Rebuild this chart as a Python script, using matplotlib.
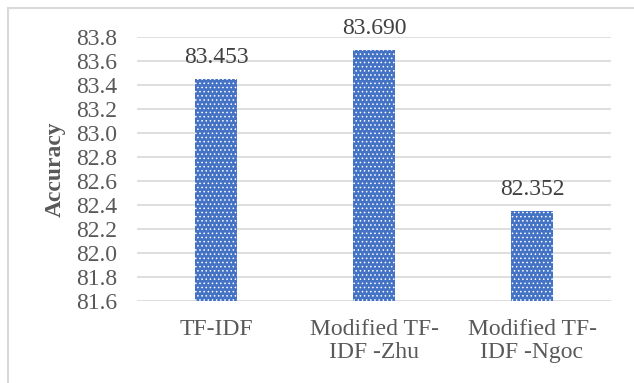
import numpy as np
import matplotlib.pyplot as plt
from matplotlib.patches import Rectangle

# accuracy of each weighting scheme
methods = ['TF-IDF', 'Modified TF-\nIDF -Zhu', 'Modified TF-\nIDF -Ngoc']
accuracy = [83.453, 83.690, 82.352]
yticks = [81.6, 81.8, 82.0, 82.2, 82.4, 82.6, 82.8, 83.0, 83.2, 83.4, 83.6, 83.8]

plt.rcParams['font.family'] = ['Liberation Serif', 'DejaVu Serif']
plt.rcParams['hatch.linewidth'] = 0.6

fig = plt.figure(figsize=(6.34, 3.83), dpi=100)
ax = fig.add_axes([137/634, 1 - 301/383, 474/634, 264/383])

# chart border
fig.patches.append(Rectangle((8/634, -0.05), 1.0, 1 - 8/383 + 0.05,
                             transform=fig.transFigure, fill=False,
                             edgecolor='#d9d9d9', linewidth=1.5))

x = np.arange(len(methods))
bars = ax.bar(x, accuracy, width=0.27, color='#4472c4', edgecolor='white',
              linewidth=0, hatch='....', zorder=3)

for xi, v in zip(x, accuracy):
    ax.annotate('%.3f' % v, (xi, v), xytext=(0, 8), textcoords='offset points',
                ha='center', va='bottom', fontsize=17, color='#404040')

ax.set_xlim(-0.5, len(methods) - 0.5)
ax.set_ylim(81.6, 83.8)
ax.set_yticks(yticks)
ax.set_yticklabels(['%.1f' % t for t in yticks])
ax.set_xticks(x)
ax.set_xticklabels(methods, linespacing=1.1)
ax.tick_params(axis='both', length=0, labelsize=17, colors='#595959')
ax.tick_params(axis='y', pad=14)
ax.tick_params(axis='x', pad=13)

ax.grid(axis='y', color='#d9d9d9', linewidth=1.2, zorder=0)
for s in ax.spines.values():
    s.set_visible(False)

ax.set_ylabel('Accuracy', fontsize=17, fontweight='bold', color='#595959', labelpad=8)

fig.savefig('out.png', dpi=100)
